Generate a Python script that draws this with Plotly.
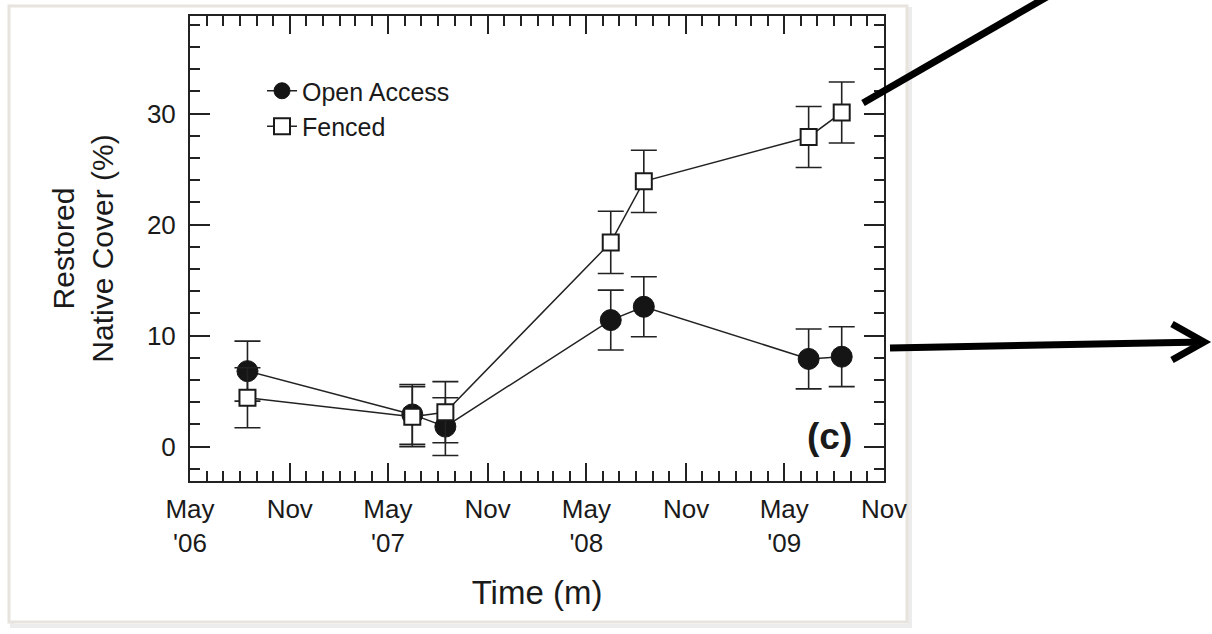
import plotly.graph_objects as go

# Sampling dates and mean cover (%) with standard errors
dates = ["2006-08-15", "2007-06-15", "2007-08-15", "2008-06-15",
         "2008-08-15", "2009-06-15", "2009-08-15"]
open_access = [6.8, 2.9, 1.8, 11.4, 12.6, 7.9, 8.1]
open_err = [2.7, 2.7, 2.6, 2.7, 2.7, 2.7, 2.7]
fenced = [4.4, 2.7, 3.1, 18.4, 23.9, 27.9, 30.1]
fenced_err = [2.7, 2.7, 2.75, 2.8, 2.8, 2.75, 2.75]

tick_dates = ["2006-05-01", "2006-11-01", "2007-05-01", "2007-11-01",
              "2008-05-01", "2008-11-01", "2009-05-01", "2009-11-01"]
tick_text = ["May<br>'06", "Nov", "May<br>'07", "Nov",
             "May<br>'08", "Nov", "May<br>'09", "Nov"]

W, H = 1212, 634
L, R, T, B = 190, 884, 16, 481  # plot box in pixels


def px(x, y):
    """Convert pixel position to paper coordinates."""
    return (x - L) / (R - L), (B - y) / (B - T)


FONT = "Liberation Sans, Arial, Helvetica, sans-serif"
INK = "#1a1a1a"

fig = go.Figure()

fig.add_trace(go.Scatter(
    x=dates, y=open_access, name="Open Access", mode="lines+markers",
    line=dict(color="#222222", width=1.5),
    marker=dict(symbol="circle", size=21, color="#151515",
                line=dict(color="#151515", width=1)),
    error_y=dict(type="data", array=open_err, visible=True,
                 color="#222222", thickness=1.6, width=13),
))
fig.add_trace(go.Scatter(
    x=dates, y=fenced, name="Fenced", mode="lines+markers",
    line=dict(color="#222222", width=1.5),
    marker=dict(symbol="square", size=16, color="white",
                line=dict(color="#1a1a1a", width=2)),
    error_y=dict(type="data", array=fenced_err, visible=True,
                 color="#222222", thickness=1.6, width=13),
))

# panel frame with a soft drop shadow
sx0, sy0 = px(12, 9)
sx1, sy1 = px(910, 626)
fx0, fy0 = px(9, 6)
fx1, fy1 = px(907, 622)
shapes = [
    dict(type="rect", xref="paper", yref="paper", x0=sx0, y0=sy1, x1=sx1, y1=sy0,
         line=dict(color="#ececec", width=4), fillcolor="rgba(0,0,0,0)", layer="below"),
    dict(type="rect", xref="paper", yref="paper", x0=fx0, y0=fy1, x1=fx1, y1=fy0,
         line=dict(color="#e6e4dc", width=3), fillcolor="white", layer="below"),
]

# pointer arrows
a0 = px(863, 103)
a1 = px(1052, -6)
shapes.append(dict(type="line", xref="paper", yref="paper",
                   x0=a0[0], y0=a0[1], x1=a1[0], y1=a1[1],
                   line=dict(color="black", width=7)))
b0 = px(890, 348)
b1 = px(1204, 342)
shapes.append(dict(type="line", xref="paper", yref="paper",
                   x0=b0[0], y0=b0[1], x1=b1[0], y1=b1[1],
                   line=dict(color="black", width=7)))
h0 = px(1172, 324)
h2 = px(1172, 360)
shapes.append(dict(type="path", xref="paper", yref="paper",
                   path=f"M{h0[0]},{h0[1]} L{b1[0]},{b1[1]} L{h2[0]},{h2[1]}",
                   line=dict(color="black", width=7)))

cx, cy = px(829, 436)
annotations = [
    dict(text="<b>(c)</b>", xref="paper", yref="paper", x=cx, y=cy,
         xanchor="center", yanchor="middle",
         showarrow=False, font=dict(size=37, color=INK, family=FONT)),
]

fig.update_layout(
    width=W, height=H,
    margin=dict(l=L, r=W - R, t=T, b=H - B, autoexpand=False),
    paper_bgcolor="white", plot_bgcolor="white",
    font=dict(family=FONT, color=INK, size=26),
    showlegend=True,
    legend=dict(x=px(262, 0)[0], y=px(0, 68)[1], xanchor="left", yanchor="top",
                bgcolor="rgba(0,0,0,0)", font=dict(size=25, color=INK),
                tracegroupgap=0, itemwidth=30),
    shapes=shapes,
    annotations=annotations,
)

fig.update_xaxes(
    type="date", range=["2006-05-01", "2009-11-01"],
    tickmode="array", tickvals=tick_dates, ticktext=tick_text,
    ticks="inside", ticklen=18, tickwidth=1.5, tickcolor="#222",
    minor=dict(ticks="inside", ticklen=10, tickwidth=1.5, tickcolor="#222",
               dtick="M1", tick0="2006-05-01", showgrid=False),
    showline=True, linecolor="#222", linewidth=2, mirror="allticks",
    showgrid=False, zeroline=False,
    ticklabelstandoff=4,
    tickfont=dict(size=26, color=INK),
    title=dict(text="Time (m)", font=dict(size=33, color=INK), standoff=24),
)
fig.update_yaxes(
    range=[-3.1, 38.8],
    tickmode="array", tickvals=[0, 10, 20, 30],
    ticks="inside", ticklen=20, tickwidth=1.5, tickcolor="#222",
    minor=dict(ticks="inside", ticklen=10, tickwidth=1.5, tickcolor="#222",
               dtick=2, tick0=0, showgrid=False),
    showline=True, linecolor="#222", linewidth=2, mirror="allticks",
    showgrid=False, zeroline=False,
    ticklabelstandoff=7,
    tickfont=dict(size=26, color=INK),
    title=dict(text="Restored<br>Native Cover (%)", font=dict(size=30, color=INK),
               standoff=24),
)

fig.write_html("out.html")
